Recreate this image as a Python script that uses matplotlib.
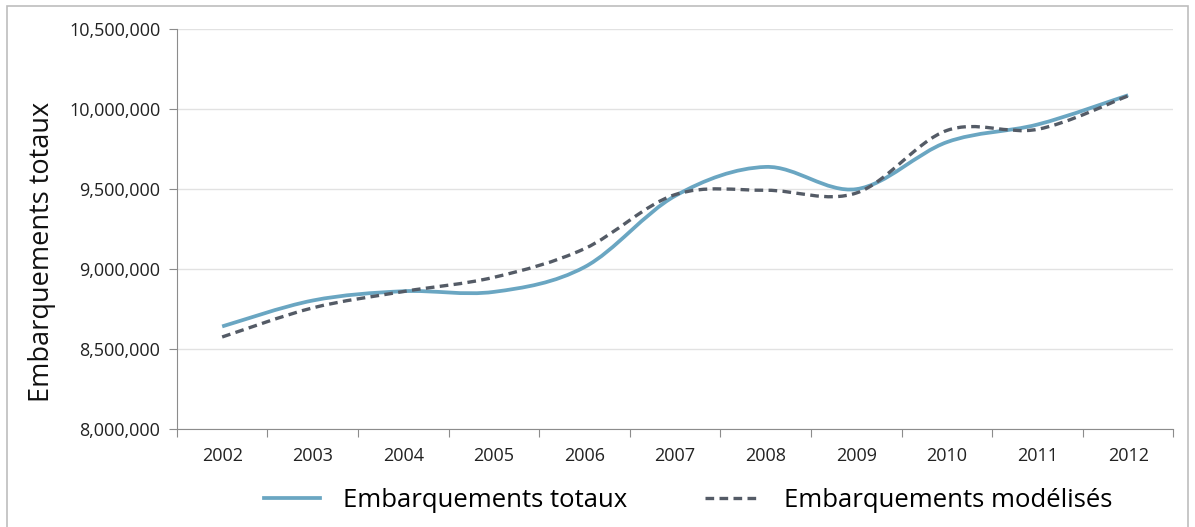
import matplotlib.pyplot as plt
from matplotlib.path import Path
from matplotlib.patches import PathPatch, Rectangle
from matplotlib.lines import Line2D
from matplotlib.ticker import FuncFormatter

plt.rcParams['font.family'] = ['Open Sans', 'DejaVu Sans']

years = ['2002', '2003', '2004', '2005', '2006', '2007', '2008', '2009', '2010', '2011', '2012']
totaux = [8641000, 8803000, 8861000, 8857000, 9012000, 9457000, 9638000, 9499000, 9793000, 9903000, 10086000]
modelises = [8575000, 8757000, 8859000, 8948000, 9127000, 9465000, 9492000, 9475000, 9866000, 9873000, 10082000]

blue = '#6aa6c2'
dark = '#545b66'


def smooth_path(xs, ys):
    # Excel-style smoothed line: cubic Bezier through each point
    n = len(xs)
    verts = [(xs[0], ys[0])]
    codes = [Path.MOVETO]
    for i in range(n - 1):
        a = max(i - 1, 0)
        b = min(i + 2, n - 1)
        c1 = (xs[i] + (xs[i + 1] - xs[a]) / 6, ys[i] + (ys[i + 1] - ys[a]) / 6)
        c2 = (xs[i + 1] - (xs[b] - xs[i]) / 6, ys[i + 1] - (ys[b] - ys[i]) / 6)
        verts += [c1, c2, (xs[i + 1], ys[i + 1])]
        codes += [Path.CURVE4] * 3
    return Path(verts, codes)


fig = plt.figure(figsize=(11.95, 5.27), dpi=100)
ax = fig.add_axes([0.148, 0.186, 0.834, 0.759])

x = list(range(len(years)))
ax.add_patch(PathPatch(smooth_path(x, totaux), fill=False, edgecolor=blue,
                       linewidth=2.7, capstyle='butt', zorder=3))
dashed = PathPatch(smooth_path(x, modelises), fill=False, edgecolor=dark,
                   linewidth=2.4, linestyle=(0, (2.6, 1.6)), capstyle='butt', zorder=4)
ax.add_patch(dashed)

ax.set_xlim(-0.5, len(years) - 0.5)
ax.set_ylim(8000000, 10500000)
ax.set_yticks(range(8000000, 10500001, 500000))
ax.yaxis.set_major_formatter(FuncFormatter(lambda v, p: f'{int(v):,}'))
ax.grid(axis='y', color='#e2e2e2', linewidth=1)
ax.set_axisbelow(True)

# category axis: ticks between categories, labels at centres
ax.set_xticks([i - 0.5 for i in range(len(years) + 1)])
ax.set_xticklabels([])
ax.set_xticks(x, minor=True)
ax.set_xticklabels(years, minor=True)
ax.tick_params(axis='x', which='major', length=6, color='#8c8c8c')
ax.tick_params(axis='x', which='minor', length=0, pad=13, labelsize=13, labelcolor='#222222')
ax.tick_params(axis='y', length=6, color='#8c8c8c', labelsize=13, labelcolor='#222222', pad=6)

for side in ['top', 'right']:
    ax.spines[side].set_visible(False)
for side in ['left', 'bottom']:
    ax.spines[side].set_color('#8c8c8c')

ax.set_ylabel('Embarquements totaux', fontsize=19.5, color='#111111')
ax.yaxis.set_label_coords(-121 / 996, 0.4425)

handles = [Line2D([], [], color=blue, linewidth=2.7),
           Line2D([], [], color=dark, linewidth=2.4, linestyle=(0, (2.6, 1.6)))]
fig.legend(handles, ['Embarquements totaux', 'Embarquements modélisés'], loc='center',
           bbox_to_anchor=(0.576, 0.05), ncol=2, frameon=False, fontsize=18.5,
           handlelength=2.2, columnspacing=3.0, handletextpad=0.9)

fig.patches.append(Rectangle((7 / 1195, -0.05), 1181 / 1195, 1.05 - 6 / 527,
                             transform=fig.transFigure, fill=False,
                             edgecolor='#bdbdbd', linewidth=1.2))

fig.savefig('out.png', dpi=100, facecolor='white')
